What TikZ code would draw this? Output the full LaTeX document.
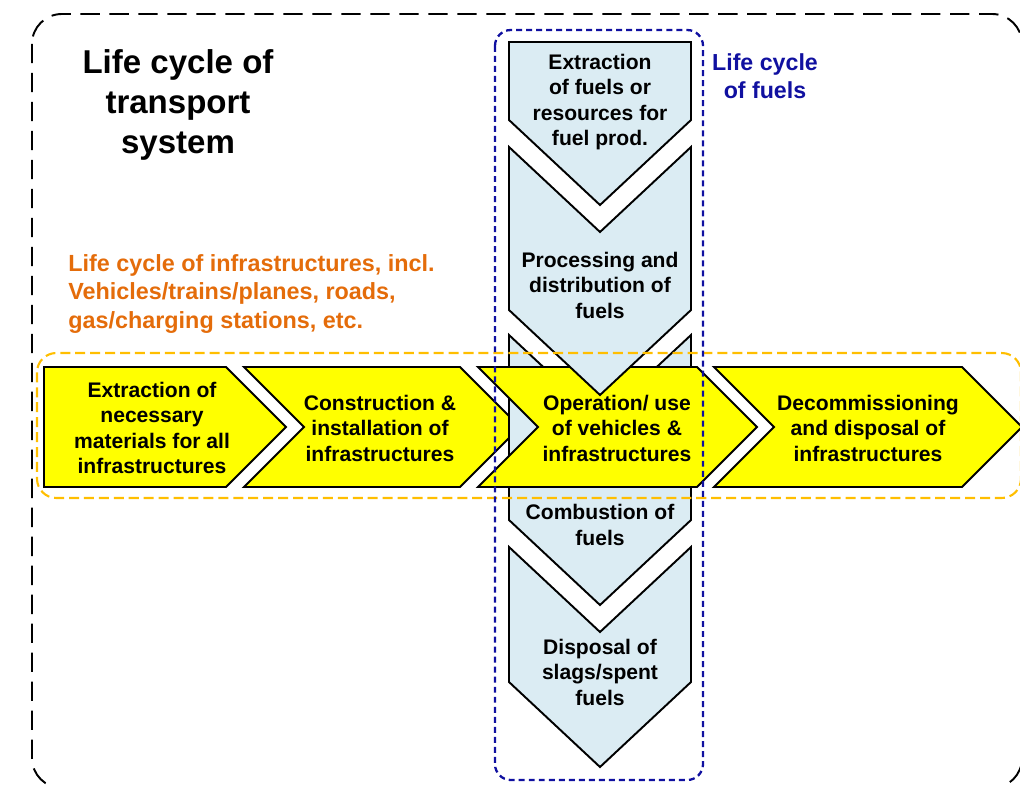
\documentclass[tikz,border=0pt]{standalone}
\usepackage{fontspec}
\setmainfont{Liberation Sans}
\usetikzlibrary{positioning}

\definecolor{fuelblue}{RGB}{219,236,243}
\definecolor{chevyellow}{RGB}{255,255,0}
\definecolor{infraorange}{RGB}{228,108,10}
\definecolor{dashorange}{RGB}{255,190,0}
\definecolor{fuelnavy}{RGB}{16,16,160}

\begin{document}
\begin{tikzpicture}[
        x=0.02cm, y=-0.02cm,
        hchev/.style={
            draw=black,
            line width=1.1pt,
            fill=chevyellow
        },
        vchev/.style={
            draw=black,
            line width=1.1pt,
            fill=fuelblue
        },
        stepnote/.style={
            align=center,
            inner sep=0pt,
            font=\bfseries\fontsize{12}{14.5}\selectfont
        },
        systembox/.style={
            draw=black,
            line width=1.1pt,
            dash pattern=on 11pt off 5.5pt,
            rounded corners=17pt
        },
        infrabox/.style={
            draw=dashorange,
            line width=1.2pt,
            dash pattern=on 5.7pt off 2.8pt,
            rounded corners=11pt
        },
        fuelbox/.style={
            draw=fuelnavy,
            line width=1.3pt,
            dash pattern=on 3.4pt off 2.3pt,
            rounded corners=9pt
        }
    ]
        \useasboundingbox (0,0) rectangle (1020,784);

        % whole transport system
        \draw[systembox] (32,14) rectangle (1022,788);
        \node[align=center, inner sep=0pt, font=\bfseries\fontsize{18.8}{22.7}\selectfont] (title) at (178,105) {Life cycle of\\transport\\system};

        % fuel chain, top
        \filldraw[vchev] (509,42) -- (691,42) -- (691,120) -- (600,205) -- (509,120) -- cycle;

        % infrastructure chain, first two steps
        \filldraw[hchev] (44,367) -- (226,367) -- (286,427) -- (226,487) -- (44,487) -- cycle;
        \filldraw[hchev] (244,367) -- (460,367) -- (520,427) -- (460,487) -- (244,487) -- (304,427) -- cycle;

        % combustion sits under the operation step
        \filldraw[vchev] (509,335) -- (600,420) -- (691,335) -- (691,520) -- (600,605) -- (509,520) -- cycle;

        % operation and decommissioning
        \filldraw[hchev] (478,367) -- (697,367) -- (757,427) -- (697,487) -- (478,487) -- (538,427) -- cycle;
        \filldraw[hchev] (714,367) -- (962,367) -- (1022,427) -- (962,487) -- (714,487) -- (774,427) -- cycle;

        % rest of the fuel chain
        \filldraw[vchev] (509,147) -- (600,232) -- (691,147) -- (691,310) -- (600,395) -- (509,310) -- cycle;
        \filldraw[vchev] (509,547) -- (600,632) -- (691,547) -- (691,682) -- (600,767) -- (509,682) -- cycle;

        \node[stepnote] (fuelext) at (600,102) {Extraction\\of fuels or\\resources for\\fuel prod.};
        \node[stepnote] (fuelproc) at (600,285) {Processing and\\distribution of\\fuels};
        \node[stepnote] (fuelcomb) at (600,525) {Combustion of\\fuels};
        \node[stepnote] (fueldisp) at (600,672) {Disposal of\\slags/spent\\fuels};

        \node[stepnote] (infraext) at (152,428) {Extraction of\\necessary\\materials for all\\infrastructures};
        \node[stepnote] (infracons) at (380,428) {Construction \&\\installation of\\infrastructures};
        \node[stepnote] (infraop) at (617,428) {Operation/ use\\of vehicles \&\\infrastructures};
        \node[stepnote] (infradec) at (868,428) {Decommissioning\\and disposal of\\infrastructures};

        % the two life cycles
        \draw[infrabox] (37,353) rectangle (1021,498);
        \draw[fuelbox] (495,30) rectangle (703,780);

        \node[anchor=west, align=left, inner sep=0pt, text=infraorange, font=\bfseries\fontsize{13.3}{16.2}\selectfont] (infranote) at (68,294) {Life cycle of infrastructures, incl.\\Vehicles/trains/planes, roads,\\gas/charging stations, etc.};
        \node[align=center, inner sep=0pt, text=fuelnavy, font=\bfseries\fontsize{13.2}{16}\selectfont] (fuelnote) at (765,76) {Life cycle\\of fuels};
    \end{tikzpicture}
\end{document}
